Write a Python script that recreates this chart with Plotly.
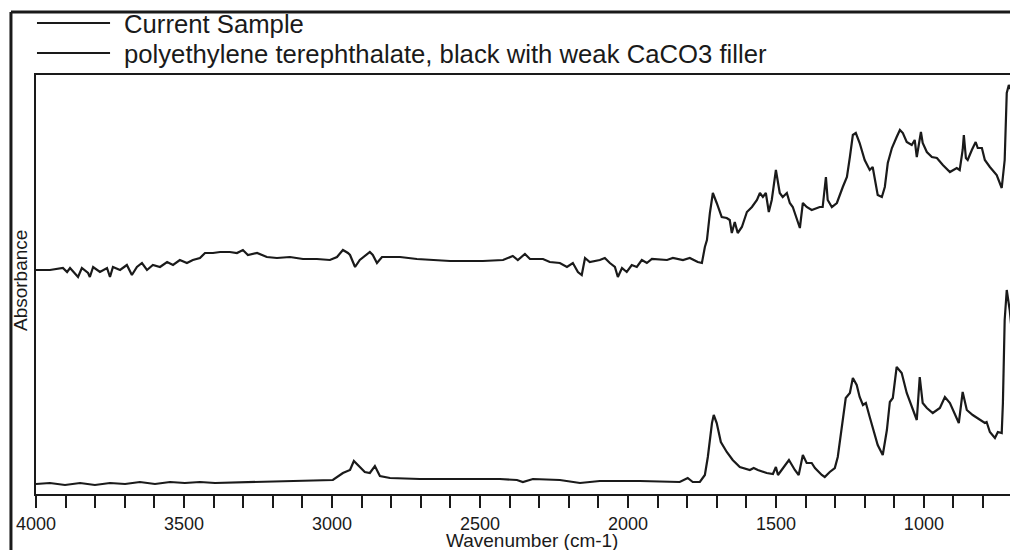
import plotly.graph_objects as go

# ---- data (wavenumber in cm-1, absorbance in arbitrary units) ----
sample_wn = [4000, 3953, 3909, 3895, 3885, 3858, 3845, 3824, 3818, 3807, 3784, 3760, 3750, 3740,
             3716, 3693, 3676, 3659, 3642, 3625, 3605, 3581, 3557, 3537, 3514, 3490, 3470, 3446,
             3429, 3402, 3378, 3345, 3321, 3301, 3284, 3253, 3220, 3186, 3142, 3098, 3051, 3007,
             2983, 2963, 2946, 2939, 2922, 2906, 2872, 2862, 2848, 2831, 2770, 2713, 2601, 2490,
             2422, 2389, 2372, 2348, 2331, 2287, 2264, 2230, 2206, 2186, 2169, 2156, 2145, 2129,
             2095, 2078, 2061, 2044, 2034, 2020, 2004, 1987, 1970, 1953, 1936, 1919, 1868, 1848,
             1814, 1791, 1764, 1750, 1740, 1733, 1723, 1713, 1700, 1683, 1666, 1656, 1649, 1639,
             1629, 1615, 1598, 1581, 1564, 1554, 1544, 1534, 1524, 1514, 1500, 1487, 1477, 1463,
             1453, 1443, 1419, 1409, 1396, 1379, 1352, 1342, 1331, 1325, 1311, 1294, 1274, 1260,
             1250, 1240, 1230, 1217, 1200, 1183, 1173, 1166, 1156, 1142, 1132, 1122, 1108, 1092,
             1081, 1071, 1058, 1041, 1031, 1024, 1017, 1010, 1004, 990, 973, 956, 936, 912,
             889, 879, 869, 865, 858, 852, 838, 825, 818, 804, 794, 777, 754, 737,
             727, 720, 713, 700, 686, 683]
sample_abs = [224, 224, 226, 222, 226, 217, 226, 221, 217, 227, 222, 226, 217, 227,
              224, 229, 219, 227, 231, 224, 229, 227, 232, 229, 234, 231, 234, 236,
              241, 241, 242, 242, 241, 244, 239, 241, 237, 236, 237, 235, 235, 234,
              237, 244, 241, 239, 227, 234, 242, 239, 231, 237, 237, 235, 233, 233,
              234, 238, 234, 240, 235, 235, 232, 231, 227, 231, 222, 219, 236, 232,
              234, 236, 231, 227, 217, 226, 222, 229, 227, 234, 231, 235, 234, 236,
              234, 236, 232, 231, 247, 254, 281, 301, 291, 277, 276, 274, 261, 272,
              261, 267, 282, 287, 294, 301, 297, 301, 282, 294, 324, 301, 297, 301,
              291, 287, 266, 291, 287, 284, 287, 287, 317, 294, 287, 291, 307, 317,
              337, 359, 361, 351, 334, 324, 327, 314, 299, 297, 307, 331, 346, 357,
              364, 361, 352, 349, 354, 337, 351, 362, 351, 342, 337, 336, 329, 322,
              326, 324, 344, 359, 336, 334, 344, 352, 346, 346, 334, 327, 319, 306,
              334, 401, 409, 401, 367, 362]

ref_wn = [4000, 3953, 3902, 3851, 3801, 3750, 3699, 3649, 3598, 3547, 3497, 3446, 3395, 3277,
          3108, 2997, 2963, 2939, 2926, 2906, 2889, 2872, 2855, 2838, 2804, 2703, 2601, 2433,
          2375, 2355, 2321, 2230, 2162, 2095, 1960, 1825, 1798, 1781, 1757, 1740, 1730, 1716,
          1710, 1700, 1686, 1666, 1646, 1622, 1588, 1575, 1561, 1531, 1510, 1500, 1493, 1470,
          1456, 1436, 1423, 1409, 1396, 1379, 1368, 1345, 1335, 1318, 1301, 1291, 1274, 1264,
          1250, 1240, 1227, 1217, 1206, 1196, 1183, 1173, 1156, 1139, 1125, 1115, 1105, 1092,
          1075, 1058, 1037, 1024, 1014, 1004, 990, 970, 946, 929, 912, 896, 882, 869,
          855, 835, 811, 794, 788, 777, 760, 750, 737, 733, 727, 720, 710, 700, 683]
ref_abs = [10, 11, 9, 11, 9, 11, 10, 12, 10, 12, 11, 12, 11, 12,
           13, 14, 21, 24, 33, 27, 22, 21, 28, 18, 16, 15, 15, 15,
           14, 12, 15, 14, 11, 13, 13, 12, 16, 12, 12, 19, 37, 71,
           79, 71, 52, 42, 34, 27, 24, 26, 24, 21, 20, 27, 19, 29,
           34, 24, 19, 39, 31, 31, 26, 19, 17, 22, 26, 37, 74, 96,
           101, 116, 109, 97, 89, 91, 77, 66, 49, 39, 64, 92, 96, 127,
           121, 101, 84, 74, 117, 91, 86, 81, 86, 97, 91, 81, 71, 102,
           84, 79, 74, 71, 72, 62, 56, 62, 61, 91, 174, 204, 184, 154, 127]

series_names = ["Current Sample", "polyethylene terephthalate, black with weak CaCO3 filler"]
x_title = "Wavenumber (cm-1)"
y_title = "Absorbance"

INK = "#1a1a1a"
FONT = "Liberation Sans, Arial, sans-serif"

fig = go.Figure()
fig.add_trace(go.Scatter(x=sample_wn, y=sample_abs, mode="lines", name=series_names[0],
                         line=dict(color=INK, width=2.2), showlegend=False))
fig.add_trace(go.Scatter(x=ref_wn, y=ref_abs, mode="lines", name=series_names[1],
                         line=dict(color=INK, width=2.2), showlegend=False))

# the page body adds an 8px offset, so the figure is 8px smaller on each axis
fig.update_layout(
    width=1010, height=542,
    margin=dict(l=28, r=0, t=67, b=56),
    paper_bgcolor="white", plot_bgcolor="white",
    font=dict(family=FONT, color=INK),
    xaxis=dict(range=[4000, 682], tick0=0, dtick=500, ticks="outside", ticklen=12,
               tickwidth=2, tickcolor=INK, showline=True, linewidth=2, linecolor=INK,
               mirror=True, showgrid=False, zeroline=False,
               tickfont=dict(size=18, family=FONT, color=INK),
               minor=dict(dtick=100, ticks="outside", ticklen=12, tickwidth=2,
                          tickcolor=INK, showgrid=False)),
    yaxis=dict(range=[0, 419], showticklabels=False, ticks="", showline=True,
               linewidth=2, linecolor=INK, showgrid=False, zeroline=False),
)

# outer frame
fig.add_shape(type="line", xref="paper", yref="paper", x0=-0.0255, x1=-0.0255,
              y0=-0.14, y1=1.1504, line=dict(color=INK, width=3))
fig.add_shape(type="line", xref="paper", yref="paper", x0=-0.0255, x1=1.0,
              y0=1.1504, y1=1.1504, line=dict(color=INK, width=3))

# legend lines and texts
for yy, name in [(1.1241, series_names[0]), (1.0525, series_names[1])]:
    fig.add_shape(type="line", xref="paper", yref="paper", x0=0.001, x1=0.0754,
                  y0=yy, y1=yy, line=dict(color=INK, width=2))
    fig.add_annotation(xref="paper", yref="paper", x=0.0876, y=yy - 0.003, text=name,
                       showarrow=False, xanchor="left", yanchor="middle",
                       font=dict(size=25.7, family=FONT, color=INK))

fig.add_annotation(xref="paper", yref="paper", x=0.505, y=-0.1115, text=x_title,
                   showarrow=False, xanchor="center", yanchor="middle", borderpad=0,
                   font=dict(size=19, family=FONT, color=INK))
fig.add_annotation(xref="paper", yref="paper", x=-0.0163, y=0.5107, text=y_title,
                   textangle=-90, showarrow=False, xanchor="center", yanchor="middle",
                   font=dict(size=19, family=FONT, color=INK))

fig.write_html("out.html")
